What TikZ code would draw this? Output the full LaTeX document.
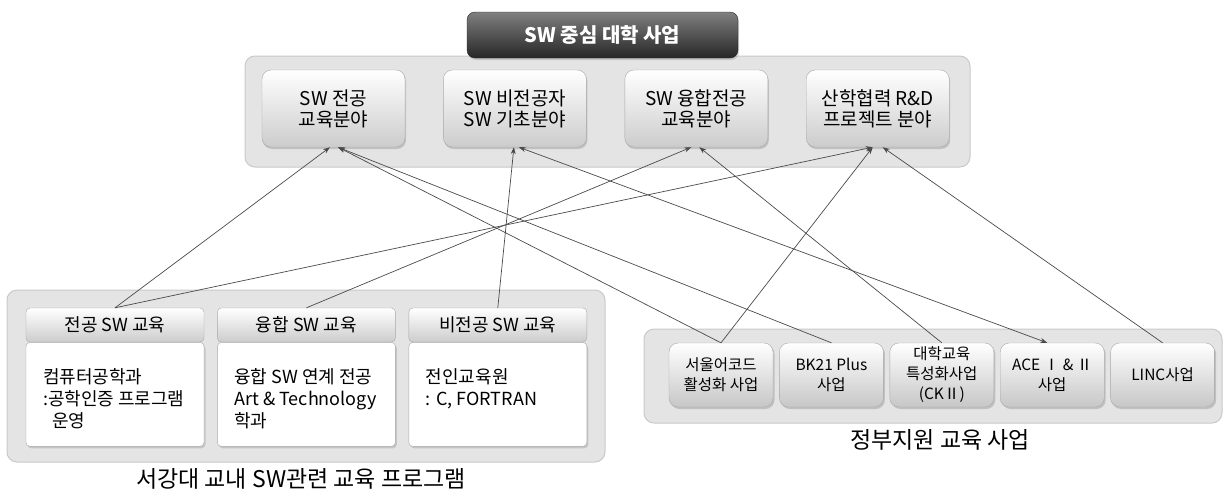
\documentclass[tikz,border=0pt]{standalone}
\usepackage{fontspec}
\setmainfont{Noto Sans CJK KR}
\usetikzlibrary{positioning,shadows,arrows.meta}
\definecolor{areafill}{HTML}{E4E4E4}
\definecolor{areaedge}{HTML}{C9C9C9}
\definecolor{boxedge}{HTML}{A8A8A8}
\definecolor{linkgray}{HTML}{4A4A4A}
\tikzset{%
  >={Stealth[length=7pt,width=5pt]},
  area/.style={draw=areaedge, fill=areafill, line width=1pt, rounded corners=10pt},
  titlebox/.style={rectangle, rounded corners=8pt, draw=black!85, top color=black!50, bottom color=black!85,
    text=white, minimum width=271pt, minimum height=46pt, font=\fontsize{20}{22}\selectfont\bfseries,
    drop shadow={opacity=.3, shadow xshift=1pt, shadow yshift=-2pt}},
  fieldbox/.style={rectangle, rounded corners=9pt, draw=boxedge, top color=white, bottom color=black!20,
    minimum width=143pt, minimum height=77pt, align=center, font=\fontsize{19}{21}\selectfont,
    drop shadow={opacity=.35, shadow xshift=1pt, shadow yshift=-2pt}},
  proghead/.style={rectangle, rounded corners=4pt, draw=boxedge, top color=white, bottom color=black!20,
    minimum width=178pt, minimum height=34pt, font=\fontsize{18}{20}\selectfont},
  progbody/.style={rectangle, rounded corners=4pt, draw=boxedge, fill=white,
    minimum width=178pt, minimum height=104pt,
    drop shadow={opacity=.3, shadow xshift=1.5pt, shadow yshift=-2pt}},
  progtext/.style={align=left, inner sep=0pt, font=\fontsize{18}{22}\selectfont},
  govbox/.style={rectangle, rounded corners=9pt, draw=boxedge, top color=white, bottom color=black!22,
    minimum width=104pt, minimum height=64pt, align=center, font=\fontsize{15.5}{20}\selectfont,
    drop shadow={opacity=.35, shadow xshift=1.5pt, shadow yshift=-2pt}},
  caption/.style={font=\fontsize{23}{26}\selectfont},
  link/.style={->, draw=linkgray, line width=.7pt}
}
\begin{document}
\begin{tikzpicture}[x=1pt,y=-1pt]
\useasboundingbox (0,0) rectangle (1226,491);

\node[area, minimum width=725pt, minimum height=111pt] (fieldarea) at (607.5,111.5) {};
\node[area, minimum width=598pt, minimum height=172pt] (progarea) at (306,376) {};
\node[area, minimum width=578pt, minimum height=94pt] (govarea) at (933,376) {};

\node[titlebox] (title) at (602.5,35) {SW 중심 대학 사업};

\node[fieldbox] (swmajor) at (333.5,108.5) {SW 전공\\교육분야};
\node[fieldbox, right=38pt of swmajor] (swbasic) {SW 비전공자\\SW 기초분야};
\node[fieldbox, right=38pt of swbasic] (swfusion) {SW 융합전공\\교육분야};
\node[fieldbox, right=38pt of swfusion] (swrnd) {산학협력 R\&D\\프로젝트 분야};

\node[proghead] (majorhead) at (115,325) {전공 SW 교육};
\node[proghead, right=13pt of majorhead] (fusionhead) {융합 SW 교육};
\node[proghead, right=13pt of fusionhead] (nonmajorhead) {비전공 SW 교육};
\node[progbody, below=0pt of majorhead] (majorbody) {};
\node[progbody, below=0pt of fusionhead] (fusionbody) {};
\node[progbody, below=0pt of nonmajorhead] (nonmajorbody) {};
\node[progtext, below right=26pt and 17pt of majorbody.north west] (majortext) {컴퓨터공학과\\:공학인증 프로그램\\\hspace{.5em}운영};
\node[progtext, below right=26pt and 17pt of fusionbody.north west] (fusiontext) {융합 SW 연계 전공\\Art \& Technology\\학과};
\node[progtext, below right=26pt and 17pt of nonmajorbody.north west] (nonmajortext) {전인교육원\\: C, FORTRAN};

\node[govbox] (seoul) at (721,375) {서울어코드\\활성화 사업};
\node[govbox, right=6pt of seoul] (bk) {BK21 Plus\\사업};
\node[govbox, right=6pt of bk] (ck) {대학교육\\특성화사업\\(CKⅡ)};
\node[govbox, right=6pt of ck] (ace) {ACE Ⅰ \& Ⅱ\\사업};
\node[govbox, right=6pt of ace] (linc) {LINC사업};

\node[caption] (progcap) at (301,479) {서강대 교내 SW관련 교육 프로그램};
\node[caption] (govcap) at (940,440) {정부지원 교육 사업};

\foreach \from/\to/\dx in {majorhead/swmajor/-3.5, majorhead/swrnd/-5, fusionhead/swfusion/-5,
    nonmajorhead/swbasic/-1, seoul/swmajor/4.5, bk/swmajor/4.5, seoul/swrnd/-5,
    ck/swfusion/3, linc/swrnd/5}
  \draw[link] (\from.north) -- ([xshift=\dx pt]\to.south);
\draw[link,<->] ([xshift=-5pt]ace.north) -- ([xshift=4pt]swbasic.south);
\end{tikzpicture}
\end{document}
